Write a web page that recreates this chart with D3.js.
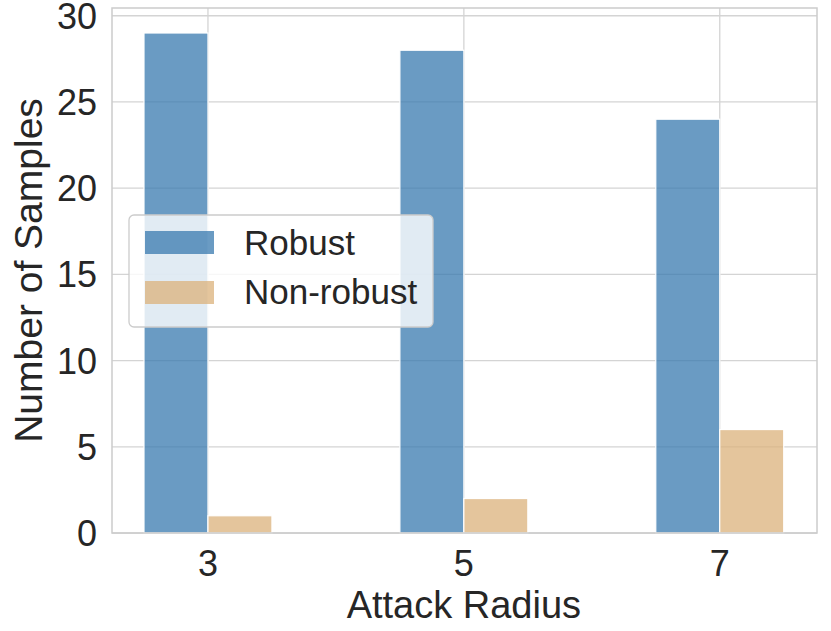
<!DOCTYPE html>
<html>
<head>
<meta charset="utf-8">
<script src="https://cdn.jsdelivr.net/npm/d3@7"></script>
<style>
  body { margin: 0; background: #fff; }
  text { font-family: Arial, "Liberation Sans", sans-serif; fill: #262626; }
</style>
</head>
<body>
<svg id="chart" width="831" height="631"></svg>
<script>
const radii = [3, 5, 7];
const robust = [29, 28, 24];
const nonRobust = [1, 2, 6];
const yTicks = [0, 5, 10, 15, 20, 25, 30];
const seriesNames = ["Robust", "Non-robust"];
const seriesColors = ["#387aaf", "#dbb27b"];

const svg = d3.select("#chart");
const margin = { left: 112, top: 8, right: 14, bottom: 98 };
const width = 831 - margin.left - margin.right;
const height = 631 - margin.top - margin.bottom;

const x = d3.scaleLinear().domain([2.25, 7.76]).range([0, width]);
const y = d3.scaleLinear().domain([0, 30.45]).range([height, 0]);

const g = svg.append("g").attr("transform", `translate(${margin.left},${margin.top})`);

// grid
g.selectAll(".hgrid").data(yTicks).enter().append("line")
    .attr("x1", 0).attr("x2", width)
    .attr("y1", d => y(d)).attr("y2", d => y(d))
    .style("stroke", "#d4d4d4").style("stroke-width", 1.3);
g.selectAll(".vgrid").data(radii).enter().append("line")
    .attr("x1", d => x(d)).attr("x2", d => x(d))
    .attr("y1", 0).attr("y2", height)
    .style("stroke", "#d4d4d4").style("stroke-width", 1.3);

// bars: each bin [r-0.5, r+0.5] split in two halves
const data = [];
radii.forEach((r, i) => {
    data.push({ r: r, v: robust[i], s: 0 });
    data.push({ r: r, v: nonRobust[i], s: 1 });
});
g.selectAll(".bar").data(data).enter().append("rect")
    .attr("x", d => x(d.r - 0.5 + d.s * 0.5))
    .attr("y", d => y(d.v))
    .attr("width", x(2.75) - x(2.25))
    .attr("height", d => y(0) - y(d.v))
    .style("fill", d => seriesColors[d.s])
    .style("fill-opacity", 0.75)
    .style("stroke", "#fff")
    .style("stroke-width", 1.2);

// frame
g.append("rect").attr("width", width).attr("height", height)
    .style("fill", "none").style("stroke", "#cccccc").style("stroke-width", 1.5);

// tick labels
g.selectAll(".ytick").data(yTicks).enter().append("text")
    .attr("x", -15).attr("y", d => y(d)).attr("dy", "0.36em")
    .attr("text-anchor", "end").style("font-size", "36px")
    .text(d => d);
g.selectAll(".xtick").data(radii).enter().append("text")
    .attr("x", d => x(d)).attr("y", height + 43)
    .attr("text-anchor", "middle").style("font-size", "36px")
    .text(d => d);

// axis labels
g.append("text").attr("x", x(5)).attr("y", height + 85)
    .attr("text-anchor", "middle").style("font-size", "38px")
    .text("Attack Radius");
g.append("text").attr("transform", `translate(${-70},${height / 2}) rotate(-90)`)
    .attr("text-anchor", "middle").style("font-size", "39px")
    .text("Number of Samples");

// legend
const lg = svg.append("g").attr("transform", "translate(129,215)");
lg.append("rect").attr("width", 304).attr("height", 112).attr("rx", 5)
    .style("fill", "#fff").style("fill-opacity", 0.8)
    .style("stroke", "#cccccc").style("stroke-width", 1.3);
seriesNames.forEach((name, i) => {
    lg.append("rect").attr("x", 16).attr("y", 16 + i * 50)
        .attr("width", 69).attr("height", 23)
        .style("fill", seriesColors[i]).style("fill-opacity", 0.75);
    lg.append("text").attr("x", 115).attr("y", 40 + i * 49)
        .style("font-size", "35px").text(name);
});
</script>
</body>
</html>
